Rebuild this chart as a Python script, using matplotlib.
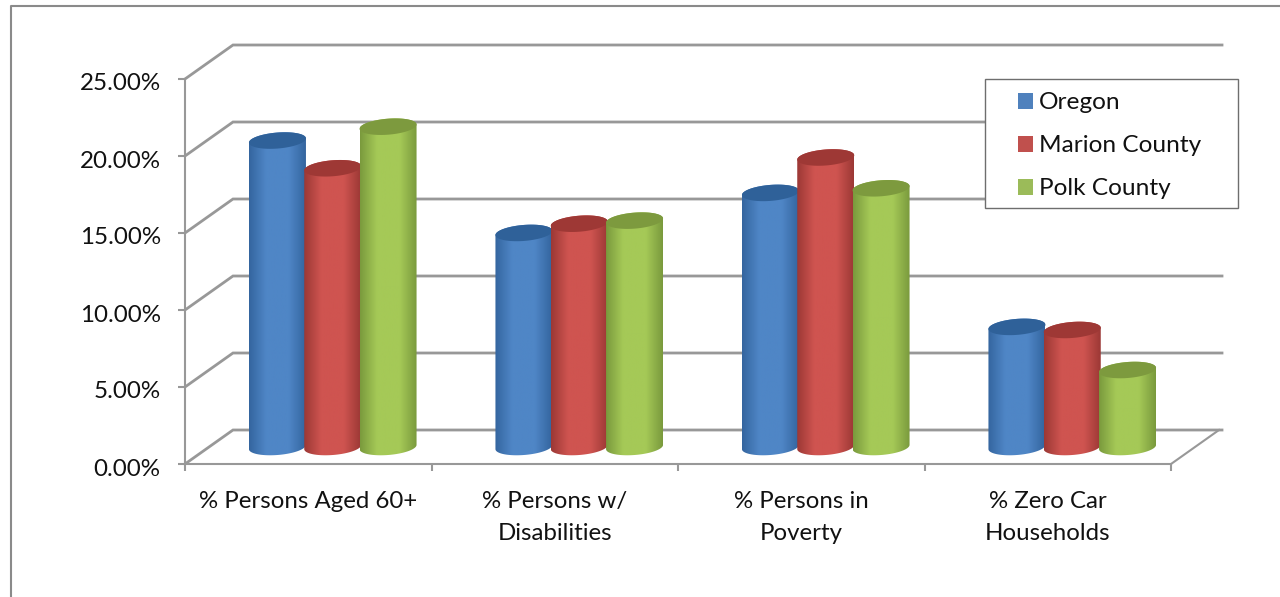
import numpy as np
import matplotlib
matplotlib.use("Agg")
import matplotlib.pyplot as plt
from matplotlib.patches import Patch, PathPatch, Polygon, Rectangle
from matplotlib.path import Path
from matplotlib.colors import LinearSegmentedColormap
from matplotlib.transforms import ScaledTranslation

categories = ["% Persons Aged 60+", "% Persons w/\nDisabilities", "% Persons in\nPoverty", "% Zero Car\nHouseholds"]
oregon = [19.9, 13.9, 16.5, 7.8]
marion = [18.1, 14.5, 18.8, 7.6]
polk = [20.8, 14.7, 16.8, 5.0]
series_names = ["Oregon", "Marion County", "Polk County"]
series_values = [oregon, marion, polk]
y_ticks = [0, 5, 10, 15, 20, 25]
y_labels = ["0.00%", "5.00%", "10.00%", "15.00%", "20.00%", "25.00%"]

W, H = 1280, 597
FONT = "Lato"
TXT = "#111111"
GRID = "#989898"
plt.rcParams["font.family"] = [FONT, "DejaVu Sans"]

fig = plt.figure(figsize=(W / 100, H / 100), dpi=100, facecolor="white")


def fig_rect(l, t, r, b):
    return [l / W, 1 - b / H, (r - l) / W, (b - t) / H]


# Axes frame = the front plane of the 3-D box
L, R, T, B = 185, 1171, 79, 464
ax = fig.add_axes(fig_rect(L, T, R, B))
ax.set_facecolor("none")
ax.set_xlim(0, len(categories))
ax.set_ylim(0, 25)
sx = (R - L) / len(categories)   # px per category
sy = (B - T) / 25                # px per percent
DX, DY = 48 / sx, 34 / sy        # depth of the box in data units

for s in ("top", "right"):
    ax.spines[s].set_visible(False)
for s in ("left", "bottom"):
    ax.spines[s].set_color(GRID)
    ax.spines[s].set_linewidth(1.5)

ax.set_yticks(y_ticks, y_labels, fontsize=17.4, color=TXT)
ax.set_xticks(range(len(categories) + 1))
ax.set_xticklabels([""] * (len(categories) + 1))
ax.tick_params(axis="both", color=GRID, width=1.5, length=5)
ax.tick_params(axis="y", pad=12.5, direction="out")
shift = ScaledTranslation(0, -3 / 100, fig.dpi_scale_trans)
for lab in ax.get_yticklabels():
    lab.set_transform(lab.get_transform() + shift)
for i, c in enumerate(categories):
    ax.annotate(c, xy=(i + 0.5, 0), xycoords="data", xytext=(0, -19.5),
                textcoords="offset points", ha="center", va="top",
                fontsize=17.3, color=TXT, linespacing=1.62)

# Back-wall gridlines and their slanted side-wall links
END = len(categories) + DX + 3 / sx
for v in y_ticks:
    ax.plot([0, DX, END], [v, v + DY, v + DY],
            color=GRID, lw=2.0, clip_on=False, zorder=1, solid_joinstyle="miter")
ax.plot([len(categories), len(categories) + DX], [0, DY], color=GRID, lw=1.5,
        clip_on=False, zorder=1)

# Cylinders
palettes = [
    ("#34659f", "#4f86c6", "#2f5f99", "#2f6199"),
    ("#9c3835", "#cf5450", "#98322f", "#9e3835"),
    ("#7a9a3d", "#a5c957", "#76963a", "#7d9a3e"),
]
RX = 28.5 / sx
RY = 8.0 / sy
TILT = 0.075   # slight rise of the ellipse towards the right
centre_gap = 55.3 / sx
t = np.linspace(0, 2 * np.pi, 121)


def ellipse_pts(cx, cy):
    xs = cx + RX * np.cos(t)
    ys = cy + RY * np.sin(t) + TILT * (RX * sx / sy) * np.cos(t)
    return np.column_stack([xs, ys])


base_level = DY / 2
for i in range(len(categories)):
    for j, vals in enumerate(series_values):
        cx = i + 0.5 + DX / 2 + (j - 1) * centre_gap + 0.5 / sx
        top = base_level + vals[i]
        dark, light, edge, cap = palettes[j]
        low = ellipse_pts(cx, base_level)
        upp = ellipse_pts(cx, top)
        body = np.vstack([low[60:121], upp[:61]])
        path = Path(np.vstack([body, body[0]]), closed=True)
        cmap = LinearSegmentedColormap.from_list(
            "c", [(0, dark), (0.3, light), (0.7, light), (1, dark)], N=128)
        grad = np.linspace(0, 1, 128).reshape(1, -1)
        im = ax.imshow(grad, cmap=cmap, aspect="auto", zorder=3 + j + 10 * i,
                       extent=(cx - RX, cx + RX, base_level - RY * 2, top + RY * 2),
                       clip_on=True)
        clip = PathPatch(path, transform=ax.transData, facecolor="none", edgecolor="none")
        ax.add_patch(clip)
        im.set_clip_path(clip)
        ax.add_patch(Polygon(upp, closed=True, facecolor=cap, edgecolor="none",
                             zorder=3.5 + j + 10 * i, clip_on=False))
ax.set_xlim(0, len(categories))
ax.set_ylim(0, 25)

# Chart outer border
fig.add_artist(plt.Line2D([11 / W, 11 / W, 1], [0, 1 - 6 / H, 1 - 6 / H],
                          color="#8a8a8a", lw=1.5))

# Legend: separate frame, frameless legend inside
fig.add_artist(Rectangle((985 / W, 1 - 208 / H), 253 / W, 129 / H,
                         transform=fig.transFigure, facecolor="white",
                         edgecolor="#6e6e6e", lw=1.0, zorder=50))
handles = [Patch(facecolor=c, edgecolor="none", label=n)
           for c, n in zip(["#4f81bd", "#c0504d", "#9bbb59"], series_names)]
leg = fig.legend(handles=handles, loc="upper left",
                 bbox_to_anchor=(1011 / W, 1 - 85 / H), frameon=False,
                 fontsize=17.6, labelcolor=TXT, handlelength=0.61, handleheight=0.61,
                 handletextpad=0.25, labelspacing=0.9, borderpad=0.3, borderaxespad=0)
leg.set_zorder(60)

fig.savefig("out.png", dpi=100, facecolor="white")
